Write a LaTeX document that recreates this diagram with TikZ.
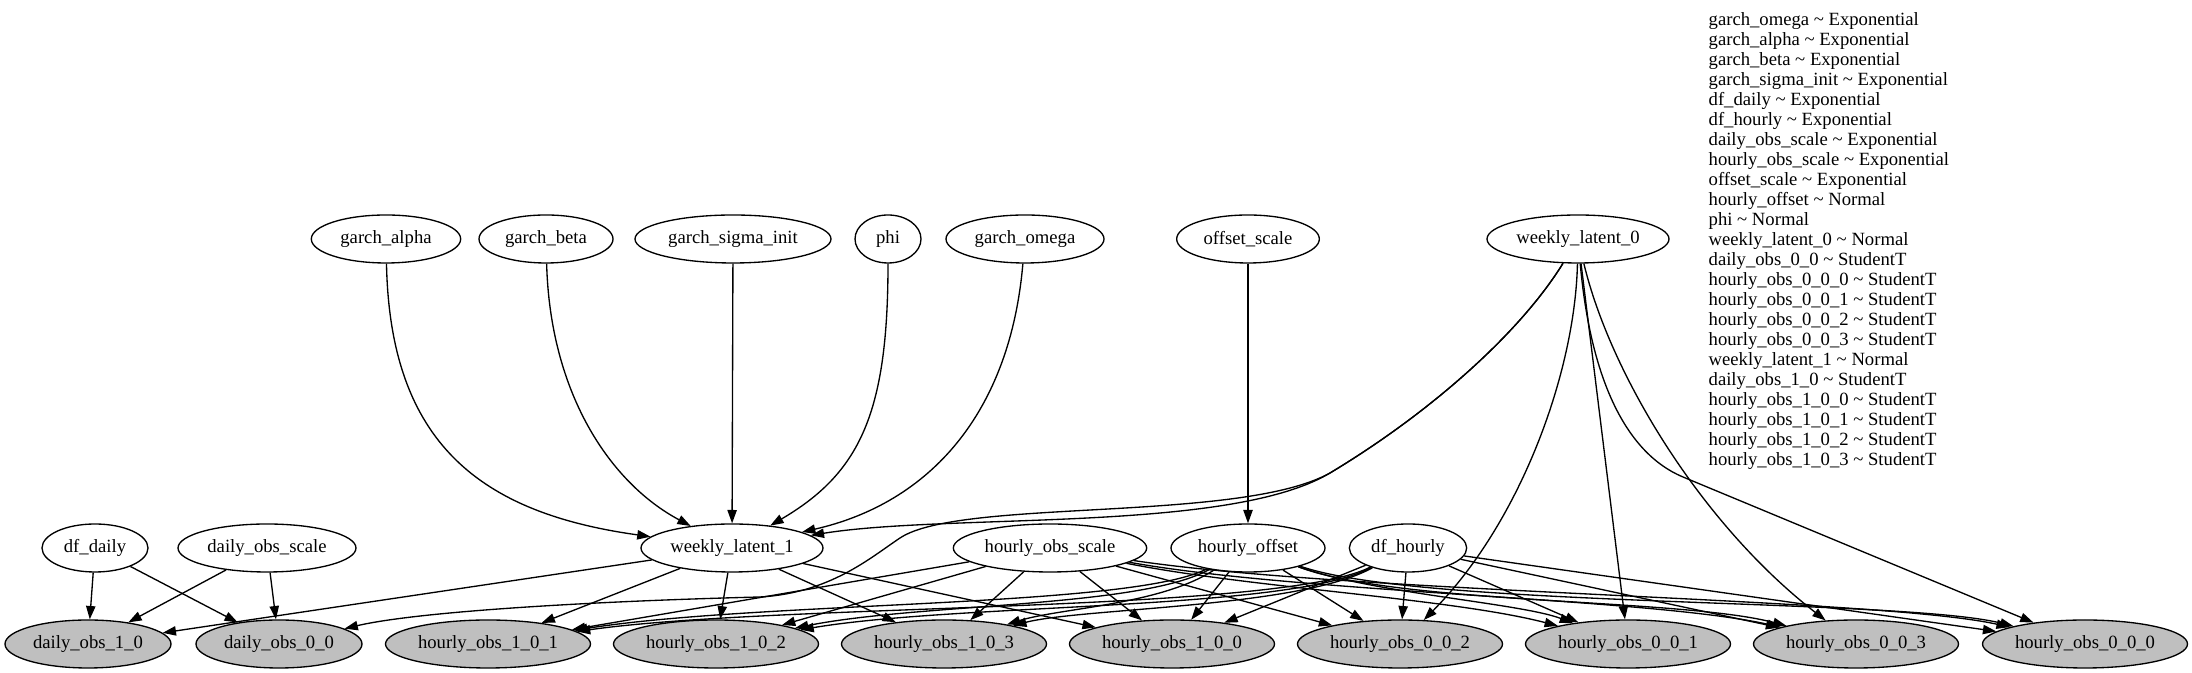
\documentclass[tikz,border=0pt]{standalone}
\usepackage{fontspec}
\setmainfont{Liberation Serif}
\usetikzlibrary{shapes.geometric,arrows.meta}
\definecolor{obsgray}{rgb}{0.75,0.75,0.75}
\tikzset{
  rv/.style={ellipse, draw, inner sep=0pt, minimum height=36pt, font=\fontsize{14pt}{16pt}\selectfont},
  obs/.style={rv, fill=obsgray},
  hobs/.style={obs, minimum width=153.75pt},
  dobs/.style={obs, minimum width=124.5pt},
  wlat/.style={rv, minimum width=136.5pt},
  legend/.style={inner sep=0pt, anchor=base west, font=\fontsize{14pt}{15pt}\selectfont}
}
\begin{document}
\begin{tikzpicture}[x=0.75pt,y=0.75pt,line width=1pt,>={Triangle[length=10pt,width=7pt]}]
\useasboundingbox (0,0) rectangle (2192,673);
% top row
\node[rv, minimum width=112pt] (ga) at (386,434) {garch\_alpha};
\node[rv, minimum width=100.5pt] (gb) at (546,434) {garch\_beta};
\node[rv, minimum width=147pt] (gsi) at (733,434) {garch\_sigma\_init};
\node[rv, minimum width=49.5pt] (phi) at (888,434) {phi};
\node[rv, minimum width=118.5pt] (gom) at (1025,434) {garch\_omega};
\node[rv, minimum width=107pt] (osc) at (1248,434) {offset\_scale};
\node[wlat] (wl0) at (1578,434) {weekly\_latent\_0};
% middle row
\node[rv, minimum width=79.5pt] (dfd) at (95,125) {df\_daily};
\node[rv, minimum width=133.5pt] (dos) at (267,125) {daily\_obs\_scale};
\node[wlat] (wl1) at (732,125) {weekly\_latent\_1};
\node[rv, minimum width=145pt] (hos) at (1050,125) {hourly\_obs\_scale};
\node[rv, minimum width=115.5pt] (hof) at (1248,125) {hourly\_offset};
\node[rv, minimum width=88pt] (dfh) at (1408,125) {df\_hourly};
% observed
\node[dobs] (d10) at (88,29) {daily\_obs\_1\_0};
\node[dobs] (d00) at (279,29) {daily\_obs\_0\_0};
\node[hobs] (h101) at (488,29) {hourly\_obs\_1\_0\_1};
\node[hobs] (h102) at (716,29) {hourly\_obs\_1\_0\_2};
\node[hobs] (h103) at (944,29) {hourly\_obs\_1\_0\_3};
\node[hobs] (h100) at (1172,29) {hourly\_obs\_1\_0\_0};
\node[hobs] (h002) at (1400,29) {hourly\_obs\_0\_0\_2};
\node[hobs] (h001) at (1628,29) {hourly\_obs\_0\_0\_1};
\node[hobs] (h003) at (1856,29) {hourly\_obs\_0\_0\_3};
\node[hobs] (h000) at (2085,29) {hourly\_obs\_0\_0\_0};

% priors into weekly_latent_1
\draw[->] (ga) .. controls (390,230) and (480,160) .. (wl1);
\draw[->] (gb) .. controls (550,280) and (610,190) .. (wl1);
\draw[->] (gsi) -- (wl1);
\draw[->] (phi) .. controls (888,260) and (860,200) .. (wl1);
\draw[->] (gom) .. controls (1010,260) and (930,170) .. (wl1);
\draw[->] (osc) -- (hof);

% weekly_latent_0
\draw[->] (wl0) .. controls (1520,340) and (1430,260) .. (1330,200) .. controls (1230,140) and (950,160) .. (wl1);
\draw[->] (wl0) .. controls (1520,340) and (1430,260) .. (1330,200) .. controls (1240,150) and (960,175) .. (900,135) .. controls (870,115) and (830,80) .. (760,76) .. controls (600,72) and (420,62) .. (d00);
\draw[->] (wl0) .. controls (1575,300) and (1520,150) .. (h002);
\draw[->] (wl0) -- (h001);
\draw[->] (wl0) .. controls (1610,300) and (1700,150) .. (h003);
\draw[->] (wl0) .. controls (1590,300) and (1623,221) .. (1683,196) -- (h000);

% daily
\draw[->] (dfd) -- (d10);
\draw[->] (dfd) -- (d00);
\draw[->] (dos) -- (d10);
\draw[->] (dos) -- (d00);
\draw[->] (wl1) -- (d10);

% weekly_latent_1 to hourly
\draw[->] (wl1) -- (h101);
\draw[->] (wl1) -- (h102);
\draw[->] (wl1) -- (h103);
\draw[->] (wl1) -- (h100);

% hourly_obs_scale
\draw[->] (hos) -- (h101);
\draw[->] (hos) -- (h102);
\draw[->] (hos) -- (h103);
\draw[->] (hos) -- (h100);
\draw[->] (hos) -- (h002);
\draw[->] (hos) .. controls (1250,85) and (1450,75) .. (h001);
\draw[->] (hos) .. controls (1300,80) and (1650,75) .. (h003);
\draw[->] (hos) .. controls (1350,80) and (1880,75) .. (h000);

% hourly_offset
\draw[->] (hof) .. controls (1130,65) and (760,72) .. (h101);
\draw[->] (hof) .. controls (1140,65) and (920,70) .. (h102);
\draw[->] (hof) .. controls (1160,68) and (1060,65) .. (h103);
\draw[->] (hof) -- (h100);
\draw[->] (hof) -- (h002);
\draw[->] (hof) .. controls (1370,80) and (1520,70) .. (h001);
\draw[->] (hof) .. controls (1400,68) and (1680,75) .. (h003);
\draw[->] (hof) .. controls (1420,65) and (1900,75) .. (h000);

% df_hourly
\draw[->] (dfh) .. controls (1280,60) and (780,70) .. (h101);
\draw[->] (dfh) .. controls (1290,62) and (960,70) .. (h102);
\draw[->] (dfh) .. controls (1300,65) and (1080,65) .. (h103);
\draw[->] (dfh) -- (h100);
\draw[->] (dfh) -- (h002);
\draw[->] (dfh) -- (h001);
\draw[->] (dfh) -- (h003);
\draw[->] (dfh) -- (h000);

% distributions
\foreach \entry [count=\i] in {
  garch\_omega \textasciitilde{} Exponential,
  garch\_alpha \textasciitilde{} Exponential,
  garch\_beta \textasciitilde{} Exponential,
  garch\_sigma\_init \textasciitilde{} Exponential,
  df\_daily \textasciitilde{} Exponential,
  df\_hourly \textasciitilde{} Exponential,
  daily\_obs\_scale \textasciitilde{} Exponential,
  hourly\_obs\_scale \textasciitilde{} Exponential,
  offset\_scale \textasciitilde{} Exponential,
  hourly\_offset \textasciitilde{} Normal,
  phi \textasciitilde{} Normal,
  weekly\_latent\_0 \textasciitilde{} Normal,
  daily\_obs\_0\_0 \textasciitilde{} StudentT,
  hourly\_obs\_0\_0\_0 \textasciitilde{} StudentT,
  hourly\_obs\_0\_0\_1 \textasciitilde{} StudentT,
  hourly\_obs\_0\_0\_2 \textasciitilde{} StudentT,
  hourly\_obs\_0\_0\_3 \textasciitilde{} StudentT,
  weekly\_latent\_1 \textasciitilde{} Normal,
  daily\_obs\_1\_0 \textasciitilde{} StudentT,
  hourly\_obs\_1\_0\_0 \textasciitilde{} StudentT,
  hourly\_obs\_1\_0\_1 \textasciitilde{} StudentT,
  hourly\_obs\_1\_0\_2 \textasciitilde{} StudentT,
  hourly\_obs\_1\_0\_3 \textasciitilde{} StudentT}
  \node[legend] (dist\i) at (1708,{667-20*\i}) {\entry};
\end{tikzpicture}
\end{document}
